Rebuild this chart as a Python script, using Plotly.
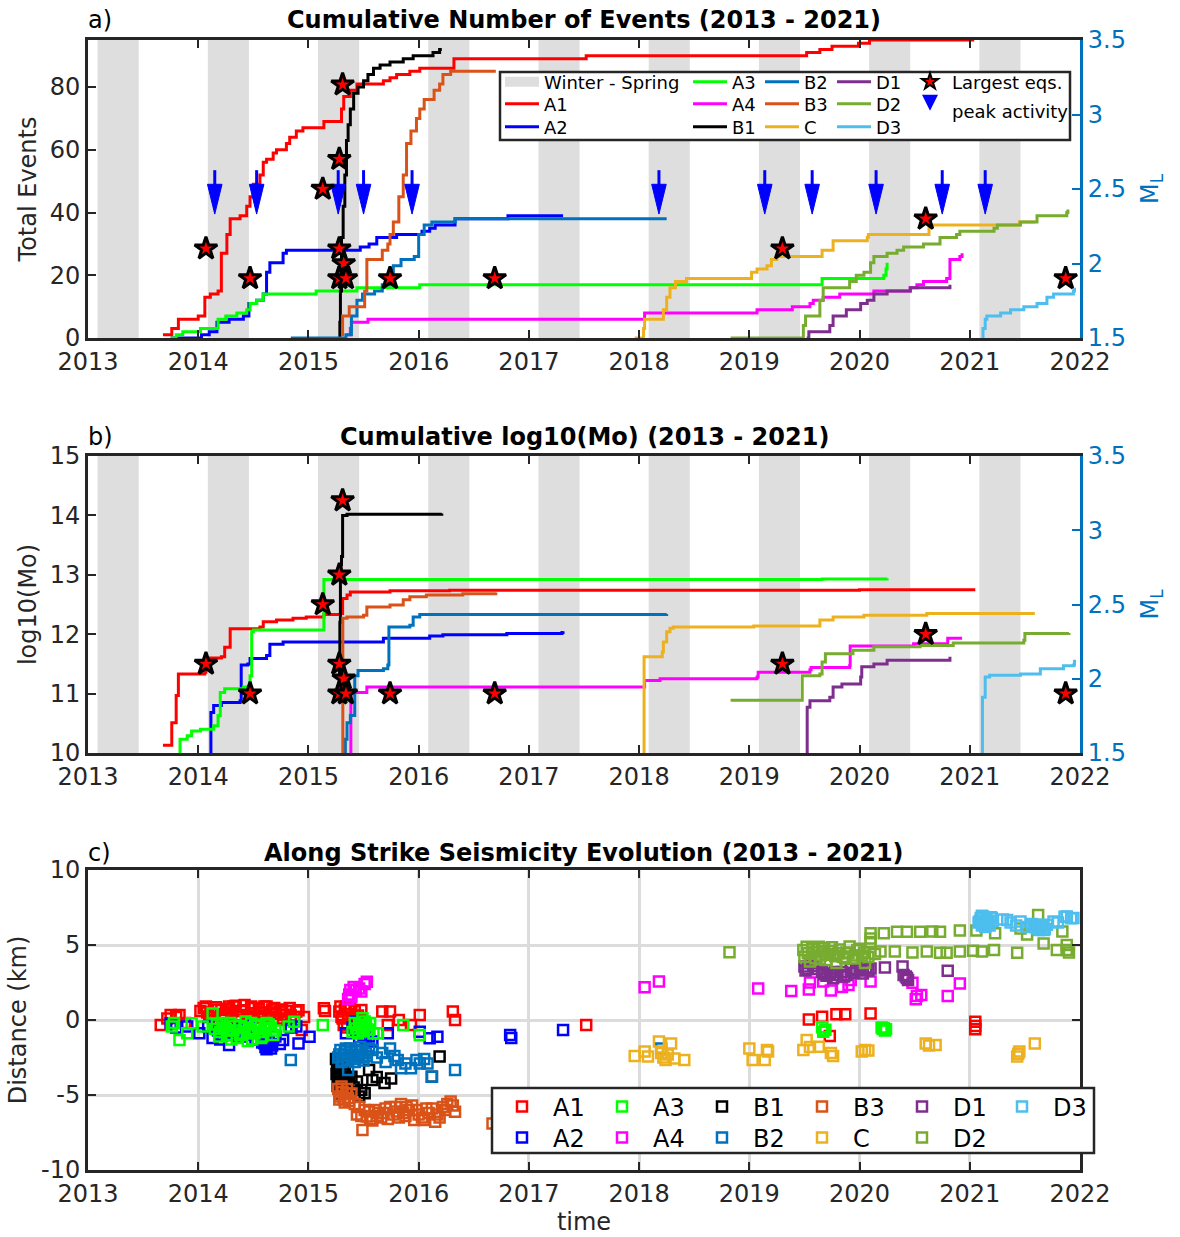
import plotly.graph_objects as go

FONT = "DejaVu Sans"
W, H = 1180, 1237

# ---------------- winter - spring periods (decimal years) ----------------
WINTER_START = [2013.087, 2014.087, 2015.087, 2016.087, 2017.087, 2018.087, 2019.087, 2020.087, 2021.087]
WINTER_END = [2013.46, 2014.46, 2015.46, 2016.46, 2017.46, 2018.46, 2019.46, 2020.46, 2021.46]

# ---------------- cumulative number of events ----------------
A1_NUM_T = [2013.68, 2013.76, 2013.82, 2014.00, 2014.06, 2014.11, 2014.18, 2014.21, 2014.26, 2014.29, 2014.38,
            2014.44, 2014.47, 2014.50, 2014.56, 2014.59, 2014.62, 2014.68, 2014.71, 2014.80, 2014.83, 2014.89,
            2014.95, 2015.14, 2015.30, 2015.32, 2015.38, 2015.44, 2015.68, 2015.74, 2015.80, 2015.92, 2016.01,
            2016.32, 2017.52, 2019.52, 2019.64, 2019.75, 2019.99, 2020.09, 2021.04]
A1_NUM = [1, 3, 6, 7, 13, 14, 15, 27, 33, 38, 39, 42, 45, 49, 52, 56, 57, 59, 60, 62, 64, 66, 67, 69, 73, 77, 79,
          81, 82, 83, 84, 85, 86, 89, 90, 91, 92, 93, 94, 95, 95]
A2_NUM_T = [2013.75, 2014.03, 2014.10, 2014.17, 2014.28, 2014.41, 2014.46, 2014.53, 2014.59, 2014.62, 2014.65,
            2014.77, 2014.80, 2015.47, 2015.55, 2015.62, 2015.80, 2016.03, 2016.10, 2016.15, 2016.33, 2016.81, 2017.31]
A2_NUM = [0, 1, 2, 5, 6, 7, 11, 12, 14, 21, 24, 27, 28, 29, 30, 32, 33, 34, 35, 36, 38, 39, 39]
A3_NUM_T = [2013.75, 2013.80, 2013.86, 2014.02, 2014.18, 2014.25, 2014.35, 2014.44, 2014.47, 2014.53, 2014.59,
            2015.07, 2015.44, 2016.01, 2019.66, 2020.22, 2020.24, 2020.25]
A3_NUM = [0, 1, 2, 3, 6, 7, 8, 9, 11, 12, 14, 15, 16, 17, 19, 20, 22, 24]
A4_NUM_T = [2015.35, 2015.38, 2015.39, 2015.54, 2018.05, 2019.07, 2019.39, 2019.55, 2019.58, 2019.67, 2019.82,
            2020.13, 2020.46, 2020.52, 2020.58, 2020.79, 2020.82, 2020.91, 2020.93]
A4_NUM = [1, 3, 5, 6, 8, 9, 10, 11, 12, 13, 14, 15, 16, 17, 18, 19, 25, 26, 27]
B1_NUM_T = [2015.28, 2015.285, 2015.29, 2015.30, 2015.315, 2015.33, 2015.345, 2015.36, 2015.38, 2015.41, 2015.45,
            2015.50, 2015.54, 2015.59, 2015.65, 2015.74, 2015.86, 2015.95, 2016.13, 2016.19, 2016.21]
B1_NUM = [0, 5, 15, 32, 42, 52, 63, 68, 73, 78, 80, 82, 84, 86, 87, 88, 89, 90, 91, 92, 92]
B2_NUM_T = [2014.84, 2015.34, 2015.39, 2015.44, 2015.49, 2015.60, 2015.67, 2015.74, 2015.77, 2015.84, 2015.96,
            2016.00, 2016.05, 2016.12, 2016.33, 2018.25]
B2_NUM = [0, 1, 7, 12, 14, 15, 17, 21, 23, 25, 26, 33, 36, 37, 38, 38]
B3_NUM_T = [2015.30, 2015.31, 2015.37, 2015.51, 2015.53, 2015.67, 2015.72, 2015.74, 2015.77, 2015.82, 2015.86,
            2015.89, 2015.93, 2015.98, 2016.01, 2016.05, 2016.14, 2016.19, 2016.22, 2016.29, 2016.70]
B3_NUM = [1, 7, 10, 15, 25, 28, 30, 33, 37, 45, 52, 62, 66, 70, 73, 76, 79, 81, 84, 85, 85]
C_NUM_T = [2017.96, 2018.04, 2018.05, 2018.22, 2018.25, 2018.28, 2018.33, 2018.43, 2019.02, 2019.07, 2019.16,
           2019.20, 2019.25, 2019.66, 2019.76, 2020.07, 2020.08, 2020.63, 2021.45, 2021.59]
C_NUM = [0, 3, 6, 9, 13, 16, 18, 19, 21, 22, 23, 25, 26, 28, 31, 32, 33, 36, 37, 37]
D1_NUM_T = [2019.52, 2019.54, 2019.73, 2019.76, 2019.88, 2020.01, 2020.07, 2020.13, 2020.25, 2020.46, 2020.82]
D1_NUM = [0, 2, 4, 7, 9, 11, 12, 14, 15, 16, 17]
D2_NUM_T = [2018.83, 2019.49, 2019.51, 2019.64, 2019.67, 2019.91, 2019.97, 2020.04, 2020.10, 2020.13, 2020.25,
            2020.34, 2020.40, 2020.58, 2020.73, 2020.88, 2020.91, 2021.22, 2021.25, 2021.46, 2021.61, 2021.88, 2021.89]
D2_NUM = [0, 4, 7, 12, 16, 18, 20, 21, 24, 26, 27, 28, 29, 30, 32, 33, 34, 35, 36, 37, 39, 40, 41]
D3_NUM_T = [2021.11, 2021.12, 2021.14, 2021.155, 2021.28, 2021.37, 2021.49, 2021.61, 2021.70, 2021.76, 2021.94, 2021.95]
D3_NUM = [0, 3, 6, 7, 8, 9, 10, 11, 13, 14, 15, 16]

# ---------------- cumulative log10(Mo) ----------------
A1_MO_T = [2013.68, 2013.76, 2013.80, 2013.82, 2014.06, 2014.07, 2014.21, 2014.24, 2014.29, 2014.56, 2014.59,
           2014.71, 2014.86, 2014.98, 2015.14, 2015.29, 2015.31, 2015.35, 2015.38, 2015.74, 2016.28, 2020.00, 2021.05]
A1_MO = [10.13, 10.51, 10.97, 11.33, 11.36, 11.60, 11.62, 11.78, 12.09, 12.12, 12.21, 12.24, 12.27, 12.29, 12.33,
         12.35, 12.60, 12.66, 12.71, 12.73, 12.74, 12.75, 12.75]
A2_MO_T = [2014.11, 2014.115, 2014.14, 2014.21, 2014.38, 2014.39, 2014.45, 2014.47, 2014.62, 2014.65, 2014.77,
           2015.68, 2016.10, 2016.22, 2016.80, 2017.30, 2017.31]
A2_MO = [9.9, 10.68, 10.80, 10.85, 10.88, 11.48, 11.50, 11.59, 11.64, 11.83, 11.87, 11.93, 11.97, 11.99, 12.01,
         12.03, 12.05]
A3_MO_T = [2013.83, 2013.835, 2013.90, 2013.94, 2014.02, 2014.14, 2014.18, 2014.20, 2014.24, 2014.41, 2014.47,
           2014.485, 2014.50, 2015.14, 2019.66, 2020.25]
A3_MO = [9.9, 10.23, 10.29, 10.37, 10.40, 10.46, 10.63, 11.02, 11.08, 11.11, 11.30, 12.04, 12.07, 12.92, 12.93, 12.94]
A4_MO_T = [2015.38, 2015.385, 2015.53, 2018.05, 2018.19, 2019.07, 2019.08, 2019.55, 2019.56, 2019.91, 2019.915,
           2020.49, 2020.80, 2020.93]
A4_MO = [9.9, 11.02, 11.11, 11.22, 11.25, 11.28, 11.36, 11.40, 11.44, 11.47, 11.80, 11.84, 11.93, 11.93]
B1_MO_T = [2015.28, 2015.282, 2015.285, 2015.29, 2015.295, 2015.30, 2015.31, 2015.35, 2016.21]
B1_MO = [10.9, 11.5, 12.2, 13.0, 13.17, 13.31, 14.0, 14.02, 14.03]
B2_MO_T = [2015.33, 2015.335, 2015.35, 2015.38, 2015.42, 2015.45, 2015.68, 2015.72, 2015.73, 2015.92, 2015.95,
           2016.01, 2018.25]
B2_MO = [9.9, 10.23, 10.51, 10.63, 11.30, 11.39, 11.42, 11.48, 12.12, 12.15, 12.29, 12.33, 12.34]
B3_MO_T = [2015.31, 2015.312, 2015.35, 2015.50, 2015.53, 2015.74, 2015.86, 2015.92, 2016.07, 2016.40, 2016.70]
B3_MO = [9.9, 12.27, 12.29, 12.32, 12.46, 12.49, 12.58, 12.63, 12.66, 12.68, 12.70]
C_MO_T = [2018.04, 2018.045, 2018.21, 2018.22, 2018.25, 2018.28, 2018.31, 2019.04, 2019.64, 2019.76, 2020.04,
          2020.61, 2021.59]
C_MO = [9.9, 11.62, 11.70, 11.87, 12.04, 12.10, 12.12, 12.14, 12.24, 12.29, 12.32, 12.35, 12.35]
D1_MO_T = [2019.52, 2019.525, 2019.55, 2019.73, 2019.76, 2019.84, 2020.01, 2020.02, 2020.13, 2020.25, 2020.82]
D1_MO = [9.9, 10.77, 10.88, 10.94, 11.11, 11.16, 11.28, 11.45, 11.50, 11.56, 11.62]
D2_MO_T = [2018.83, 2019.48, 2019.64, 2019.66, 2019.69, 2019.94, 2020.13, 2020.55, 2020.85, 2021.49, 2021.50, 2021.90]
D2_MO = [10.89, 11.30, 11.33, 11.53, 11.67, 11.73, 11.79, 11.81, 11.85, 11.90, 12.01, 12.02]
D3_MO_T = [2021.11, 2021.115, 2021.14, 2021.18, 2021.46, 2021.64, 2021.85, 2021.94, 2021.95]
D3_MO = [9.9, 10.94, 11.28, 11.31, 11.33, 11.42, 11.47, 11.48, 11.57]

# ---------------- largest earthquakes and peak activity ----------------
LARGEST_T = [2014.07, 2014.47, 2015.13, 2015.28, 2015.31, 2015.28, 2015.32, 2015.28, 2015.34, 2015.74, 2016.69,
             2019.30, 2020.60, 2021.87]
LARGEST_ML = [2.1, 1.9, 2.5, 2.7, 3.2, 2.1, 2.0, 1.9, 1.9, 1.9, 1.9, 2.1, 2.3, 1.9]
PEAK_T = [2014.15, 2014.53, 2015.27, 2015.50, 2015.94, 2018.18, 2019.14, 2019.57, 2020.15, 2020.75, 2021.14]

# ---------------- along strike locations (time, distance km) ----------------
A1_LOC_T = [2013.66, 2013.72, 2013.75, 2013.80, 2013.83, 2013.88, 2014.02, 2014.05, 2014.07, 2014.08, 2014.10,
            2014.12, 2014.14, 2014.16, 2014.18, 2014.21, 2014.22, 2014.24, 2014.26, 2014.28, 2014.30, 2014.32,
            2014.34, 2014.35, 2014.37, 2014.39, 2014.41, 2014.42, 2014.44, 2014.46, 2014.48, 2014.50, 2014.51,
            2014.53, 2014.55, 2014.57, 2014.58, 2014.60, 2014.62, 2014.63, 2014.65, 2014.67, 2014.69, 2014.70,
            2014.72, 2014.74, 2014.76, 2014.77, 2014.79, 2014.80, 2014.83, 2014.84, 2014.87, 2014.89, 2014.91,
            2014.94, 2014.96, 2015.14, 2015.15, 2015.28, 2015.29, 2015.30, 2015.31, 2015.32, 2015.33, 2015.34,
            2015.35, 2015.36, 2015.37, 2015.38, 2015.40, 2015.42, 2015.45, 2015.48, 2015.67, 2015.72, 2015.74,
            2015.82, 2015.93, 2016.01, 2016.31, 2016.33, 2017.52, 2019.54, 2019.66, 2019.73, 2019.79, 2019.87,
            2020.10, 2021.05, 2021.05, 2021.05]
A1_LOC_D = [-0.33, 0.1, 0.33, 0.2, 0.33, -0.2, 0.6, 0.8, 0.9, 0.5, 0.2, 0.4, 0.0, 0.85, 0.7, 0.67, 0.2, 0.4, 0.75,
            0.9, 0.5, 0.9, 0.95, 0.2, 0.3, 0.6, 0.65, 1.0, 0.1, 0.3, 0.9, 0.8, 0.45, -0.2, 0.75, 0.5, 0.15, 0.9,
            0.9, 0.2, 0.5, 0.7, 0.8, 0.4, 0.1, 0.56, 0.7, 0.0, 0.35, 0.6, 0.8, 0.3, 0.2, 0.56, 0.65, -0.67, 0.2,
            0.78, 0.6, 0.56, 0.9, 0.2, 0.1, -0.33, 0.7, 0.9, -0.5, 0.4, 0.85, 0.78, 0.0, 0.6, 0.3, 0.67, 0.56,
            -0.33, 0.56, 0.0, -0.33, 0.33, 0.56, 0.0, -0.33, 0.04, 0.22, -1.07, 0.38, 0.38, 0.44, -0.11, -0.4,
            -0.62]
A2_LOC_T = [2013.75, 2013.80, 2013.90, 2014.01, 2014.09, 2014.13, 2014.18, 2014.20, 2014.22, 2014.25, 2014.28,
            2014.33, 2014.36, 2014.38, 2014.44, 2014.46, 2014.52, 2014.58, 2014.60, 2014.61, 2014.62, 2014.63,
            2014.64, 2014.66, 2014.67, 2014.70, 2014.74, 2014.77, 2014.84, 2014.89, 2014.91, 2015.01, 2015.34,
            2015.40, 2015.43, 2015.46, 2015.50, 2015.52, 2015.55, 2015.58, 2015.72, 2016.01, 2016.10, 2016.17,
            2016.83, 2016.84, 2017.31]
A2_LOC_D = [-0.22, -0.5, -0.44, -0.89, -0.44, -1.2, -0.7, -1.3, -1.0, -0.9, -1.67, -0.8, -0.6, -1.1, -1.0, -0.44,
            -1.3, -1.5, -1.55, -1.8, -1.95, -1.67, -1.4, -1.9, -1.7, -1.1, -1.6, -1.33, -0.5, -0.44, -1.56, -1.11,
            -0.89, -0.5, -0.11, -1.33, -1.0, -1.2, -1.1, -1.44, -0.89, -0.78, -1.22, -1.11, -1.0, -1.2, -0.67]
A3_LOC_T = [2013.76, 2013.78, 2013.83, 2013.90, 2013.94, 2014.04, 2014.13, 2014.15, 2014.17, 2014.19, 2014.20,
            2014.22, 2014.23, 2014.26, 2014.27, 2014.29, 2014.30, 2014.32, 2014.33, 2014.35, 2014.37, 2014.38,
            2014.40, 2014.42, 2014.43, 2014.45, 2014.46, 2014.48, 2014.49, 2014.51, 2014.52, 2014.54, 2014.55,
            2014.57, 2014.58, 2014.60, 2014.62, 2014.64, 2014.66, 2014.68, 2014.70, 2014.82, 2014.87, 2015.13,
            2015.40, 2015.42, 2015.43, 2015.45, 2015.46, 2015.48, 2015.49, 2015.50, 2015.51, 2015.52, 2015.53,
            2015.55, 2015.56, 2015.59, 2015.63, 2015.86, 2016.01, 2019.66, 2019.67, 2019.69, 2020.20, 2020.21,
            2020.22, 2020.23, 2020.24]
A3_LOC_D = [-0.44, -0.2, -1.33, -0.89, -0.22, -0.44, 0.44, -0.6, -0.3, -1.1, -0.8, -0.2, -0.5, -1.0, -0.7, -0.2,
            -1.3, -0.7, -0.4, -1.2, -0.4, -1.0, -0.9, -0.5, -0.1, -1.4, -0.6, -0.2, -1.3, -0.9, -0.3, -0.4, -0.8,
            -1.2, -1.1, -0.6, -0.2, -0.3, -0.5, -1.0, -0.7, -0.44, -0.11, -0.33, -0.8, -0.2, -0.56, -0.9, -0.3,
            -0.45, 0.11, -0.75, -0.1, -0.35, -0.6, -0.65, -0.2, -0.9, -0.89, -0.33, -1.0, -0.49, -0.78, -0.65,
            -0.5, -0.6, -0.55, -0.7, -0.62]
A4_LOC_T = [2015.36, 2015.37, 2015.38, 2015.39, 2015.41, 2015.43, 2015.46, 2015.48, 2015.51, 2015.53, 2018.05,
            2018.18, 2019.08, 2019.38, 2019.54, 2019.55, 2019.67, 2019.74, 2019.84, 2019.90, 2019.92, 2020.10,
            2020.48, 2020.51, 2020.52, 2020.56, 2020.80, 2020.91]
A4_LOC_D = [1.4, 1.7, 2.0, 1.56, 2.2, 2.0, 2.1, 1.9, 2.4, 2.55, 2.18, 2.56, 2.1, 1.93, 2.04, 2.5, 2.56, 1.96, 2.2,
            2.33, 2.67, 2.56, 2.49, 1.38, 1.6, 1.67, 1.6, 2.44]
B1_LOC_T = [2015.25, 2015.255, 2015.26, 2015.265, 2015.27, 2015.27, 2015.275, 2015.28, 2015.285, 2015.29, 2015.29,
            2015.295, 2015.30, 2015.305, 2015.31, 2015.315, 2015.32, 2015.325, 2015.33, 2015.34, 2015.35, 2015.37,
            2015.39, 2015.41, 2015.44, 2015.46, 2015.48, 2015.51, 2015.55, 2015.58, 2015.62, 2015.69, 2015.75,
            2016.12, 2016.19]
B1_LOC_D = [-2.6, -3.6, -3.0, -4.4, -3.4, -4.2, -2.8, -3.8, -4.9, -3.3, -4.6, -3.9, -2.9, -4.3, -4.0, -3.2, -4.67,
            -4.1, -3.6, -4.8, -4.3, -3.9, -3.78, -4.5, -4.1, -5.1, -4.67, -4.89, -3.33, -4.0, -3.8, -4.2, -3.9,
            -3.78, -2.44]
B2_LOC_T = [2014.84, 2015.27, 2015.28, 2015.29, 2015.30, 2015.31, 2015.32, 2015.33, 2015.34, 2015.35, 2015.36,
            2015.37, 2015.38, 2015.39, 2015.40, 2015.41, 2015.42, 2015.43, 2015.44, 2015.45, 2015.46, 2015.47,
            2015.48, 2015.49, 2015.50, 2015.52, 2015.53, 2015.55, 2015.58, 2015.62, 2015.67, 2015.70, 2015.74,
            2015.78, 2015.81, 2015.84, 2015.88, 2015.93, 2015.98, 2016.01, 2016.05, 2016.08, 2016.12, 2016.33,
            2018.20]
B2_LOC_D = [-2.67, -2.5, -2.3, -2.0, -2.8, -2.7, -2.3, -2.1, -1.9, -2.6, -3.33, -2.4, -1.9, -2.1, -2.4, -2.6, -2.8,
            -2.0, -2.1, -2.3, -2.5, -1.8, -2.0, -2.5, -2.7, -2.2, -2.4, -1.9, -2.0, -2.5, -2.2, -2.8, -1.9, -2.4,
            -2.67, -3.22, -2.9, -3.22, -2.67, -2.9, -2.6, -2.9, -3.78, -3.33, -1.9]
B3_LOC_T = [2015.27, 2015.28, 2015.29, 2015.30, 2015.31, 2015.32, 2015.33, 2015.34, 2015.35, 2015.36, 2015.37,
            2015.39, 2015.42, 2015.44, 2015.46, 2015.48, 2015.49, 2015.51, 2015.53, 2015.55, 2015.56, 2015.58,
            2015.60, 2015.62, 2015.63, 2015.66, 2015.68, 2015.70, 2015.72, 2015.74, 2015.77, 2015.79, 2015.80,
            2015.82, 2015.84, 2015.86, 2015.88, 2015.89, 2015.91, 2015.94, 2015.96, 2015.98, 2016.00, 2016.03,
            2016.05, 2016.07, 2016.09, 2016.12, 2016.15, 2016.17, 2016.19, 2016.22, 2016.24, 2016.26, 2016.29,
            2016.31, 2016.33, 2016.67]
B3_LOC_D = [-4.6, -5.3, -5.1, -4.44, -4.8, -5.3, -5.5, -4.9, -4.6, -5.2, -5.4, -4.9, -5.6, -6.3, -5.8, -6.4, -7.33,
            -6.0, -6.44, -6.1, -6.6, -6.7, -6.0, -6.4, -6.2, -6.5, -6.2, -5.9, -6.6, -5.8, -6.3, -5.8, -6.1, -6.5,
            -5.6, -6.2, -6.4, -5.8, -6.0, -5.7, -6.67, -6.0, -6.3, -6.5, -6.67, -5.9, -6.2, -5.9, -6.78, -6.3,
            -6.5, -5.8, -6.0, -5.6, -5.44, -5.7, -6.11, -6.9]
C_LOC_T = [2017.96, 2018.05, 2018.08, 2018.18, 2018.20, 2018.22, 2018.24, 2018.26, 2018.29, 2018.32, 2018.41,
           2019.00, 2019.03, 2019.14, 2019.16, 2019.17, 2019.49, 2019.52, 2019.55, 2019.63, 2019.74, 2019.76,
           2020.02, 2020.05, 2020.08, 2020.60, 2020.63, 2020.69, 2021.43, 2021.44, 2021.45, 2021.59]
C_LOC_D = [-2.4, -2.1, -2.44, -1.44, -2.2, -2.5, -2.67, -2.3, -1.56, -2.56, -2.67, -1.9, -2.67, -2.67, -2.0, -2.1,
           -2.0, -1.33, -1.8, -1.78, -2.2, -2.4, -2.1, -2.0, -2.04, -1.56, -1.7, -1.67, -2.44, -2.25, -2.1, -1.56]
D1_LOC_T = [2019.50, 2019.51, 2019.53, 2019.55, 2019.58, 2019.62, 2019.66, 2019.68, 2019.70, 2019.73, 2019.76,
            2019.78, 2019.80, 2019.84, 2019.86, 2019.88, 2019.92, 2019.95, 2019.97, 2020.00, 2020.03, 2020.06,
            2020.08, 2020.10, 2020.23, 2020.39, 2020.40, 2020.42, 2020.43, 2020.44, 2020.80]
D1_LOC_D = [3.56, 3.3, 3.4, 3.78, 3.6, 3.4, 3.2, 3.05, 2.95, 3.1, 2.78, 3.2, 3.0, 3.2, 2.9, 3.0, 3.4, 3.15, 3.3,
            3.33, 3.1, 3.5, 3.3, 3.44, 3.5, 3.56, 3.0, 2.9, 2.8, 2.67, 3.29]
D2_LOC_T = [2018.82, 2019.49, 2019.50, 2019.52, 2019.53, 2019.55, 2019.57, 2019.58, 2019.60, 2019.61, 2019.63,
            2019.64, 2019.65, 2019.67, 2019.68, 2019.70, 2019.71, 2019.73, 2019.75, 2019.76, 2019.78, 2019.79,
            2019.81, 2019.82, 2019.85, 2019.87, 2019.88, 2019.90, 2019.91, 2019.94, 2019.96, 2019.98, 2020.00,
            2020.02, 2020.04, 2020.05, 2020.08, 2020.10, 2020.10, 2020.10, 2020.14, 2020.19, 2020.22, 2020.32,
            2020.34, 2020.43, 2020.48, 2020.55, 2020.61, 2020.66, 2020.73, 2020.73, 2020.79, 2020.91, 2020.91,
            2021.03, 2021.06, 2021.11, 2021.22, 2021.23, 2021.43, 2021.46, 2021.52, 2021.62, 2021.67, 2021.79,
            2021.84, 2021.88, 2021.88, 2021.90]
D2_LOC_D = [4.51, 4.67, 4.2, 4.89, 4.45, 3.9, 4.75, 4.5, 4.1, 4.55, 4.89, 4.05, 4.3, 4.6, 4.8, 4.0, 4.35, 4.6,
            4.85, 4.4, 4.25, 3.8, 4.45, 4.7, 4.2, 4.1, 4.5, 4.45, 4.9, 4.1, 4.3, 4.67, 4.75, 4.3, 4.5, 3.8, 4.2,
            5.78, 5.44, 5.2, 4.4, 4.56, 5.78, 4.56, 5.89, 5.89, 4.5, 5.89, 4.56, 5.9, 5.89, 4.49, 4.49, 5.96, 4.56,
            4.62, 5.96, 4.56, 4.67, 5.78, 4.49, 6.1, 5.7, 7.0, 5.1, 4.67, 5.9, 4.67, 5.0, 4.5]
D3_LOC_T = [2021.08, 2021.09, 2021.10, 2021.11, 2021.11, 2021.12, 2021.13, 2021.13, 2021.14, 2021.15, 2021.16,
            2021.17, 2021.18, 2021.19, 2021.20, 2021.21, 2021.30, 2021.34, 2021.37, 2021.42, 2021.46, 2021.52,
            2021.56, 2021.58, 2021.60, 2021.61, 2021.62, 2021.63, 2021.64, 2021.65, 2021.66, 2021.67, 2021.68,
            2021.70, 2021.76, 2021.80, 2021.86, 2021.88, 2021.92, 2021.94]
D3_LOC_D = [6.5, 6.6, 6.8, 6.3, 6.95, 6.9, 6.6, 6.4, 6.2, 6.75, 6.6, 6.5, 6.3, 6.85, 6.8, 6.6, 6.7, 6.67, 6.5, 6.3,
            6.56, 6.2, 6.4, 6.33, 6.2, 6.1, 6.35, 6.0, 6.1, 6.25, 6.25, 6.0, 6.05, 6.35, 6.56, 6.5, 6.89, 6.9,
            6.78, 6.8]

CLUSTERS = ["A1", "A2", "A3", "A4", "B1", "B2", "B3", "C", "D1", "D2", "D3"]
COLORS = {"A1": "#FF0000", "A2": "#0000FF", "A3": "#00FF00", "A4": "#FF00FF", "B1": "#000000",
          "B2": "#0072BD", "B3": "#D95319", "C": "#EDB120", "D1": "#7E2F8E", "D2": "#77AC30", "D3": "#4DBEEE"}
NUM = {"A1": (A1_NUM_T, A1_NUM), "A2": (A2_NUM_T, A2_NUM), "A3": (A3_NUM_T, A3_NUM), "A4": (A4_NUM_T, A4_NUM),
       "B1": (B1_NUM_T, B1_NUM), "B2": (B2_NUM_T, B2_NUM), "B3": (B3_NUM_T, B3_NUM), "C": (C_NUM_T, C_NUM),
       "D1": (D1_NUM_T, D1_NUM), "D2": (D2_NUM_T, D2_NUM), "D3": (D3_NUM_T, D3_NUM)}
MO = {"A1": (A1_MO_T, A1_MO), "A2": (A2_MO_T, A2_MO), "A3": (A3_MO_T, A3_MO), "A4": (A4_MO_T, A4_MO),
      "B1": (B1_MO_T, B1_MO), "B2": (B2_MO_T, B2_MO), "B3": (B3_MO_T, B3_MO), "C": (C_MO_T, C_MO),
      "D1": (D1_MO_T, D1_MO), "D2": (D2_MO_T, D2_MO), "D3": (D3_MO_T, D3_MO)}
LOC = {"A1": (A1_LOC_T, A1_LOC_D), "A2": (A2_LOC_T, A2_LOC_D), "A3": (A3_LOC_T, A3_LOC_D),
       "A4": (A4_LOC_T, A4_LOC_D), "B1": (B1_LOC_T, B1_LOC_D), "B2": (B2_LOC_T, B2_LOC_D),
       "B3": (B3_LOC_T, B3_LOC_D), "C": (C_LOC_T, C_LOC_D), "D1": (D1_LOC_T, D1_LOC_D),
       "D2": (D2_LOC_T, D2_LOC_D), "D3": (D3_LOC_T, D3_LOC_D)}

NUM_RANGE = [0, 95]
MO_RANGE = [10, 15]
ML_RANGE = [1.5, 3.5]
DIST_RANGE = [-10, 10]
YEARS = list(range(2013, 2023))


def px_x(p):
    return p / W


def px_y(p):
    return 1 - p / H


# Top legend: one horizontal legend per row; each entry's width sets the column grid.
# (legend id, entry width in px)
TOP_ENTRY = {"A1": ("legend2", 139), "A2": ("legend3", 139),
             "A3": ("legend", 23), "A4": ("legend2", 23), "B1": ("legend3", 23),
             "B2": ("legend", 23), "B3": ("legend2", 23), "C": ("legend3", 23),
             "D1": ("legend", 27), "D2": ("legend2", 27), "D3": ("legend3", 27)}
# Bottom legend: two horizontal rows, 100 px per column
BOT_ENTRY = {"A1": "legend4", "A3": "legend4", "B1": "legend4", "B3": "legend4", "D1": "legend4", "D3": "legend4",
             "A2": "legend5", "A4": "legend5", "B2": "legend5", "C": "legend5", "D2": "legend5"}

fig = go.Figure()


def winter_trace(xa, ya, yr):
    xs, ys = [], []
    for s, e in zip(WINTER_START, WINTER_END):
        xs += [s, e, e, s, s, None]
        ys += [yr[0], yr[0], yr[1], yr[1], yr[0], None]
    return go.Scatter(x=xs, y=ys, xaxis=xa, yaxis=ya, mode="lines", fill="toself", fillcolor="#DEDEDE",
                      line=dict(width=0, color="#DEDEDE"), showlegend=False, hoverinfo="skip")


# ---- panel a: cumulative number of events ----
fig.add_trace(winter_trace("x", "y", NUM_RANGE))
# legend swatch for the shaded periods (first entry of the first row)
fig.add_trace(go.Scatter(x=[None], y=[None], xaxis="x", yaxis="y", mode="lines",
                         line=dict(color="#DEDEDE", width=16), name="Winter - Spring",
                         legend="legend", legendwidth=139))
for c in CLUSTERS:
    t, n = NUM[c]
    lg, lw = TOP_ENTRY[c]
    fig.add_trace(go.Scatter(x=t, y=n, xaxis="x", yaxis="y", mode="lines",
                             line=dict(color=COLORS[c], width=3, shape="hv"),
                             name=c, legend=lg, legendwidth=lw))

# peak activity arrows (shaft + narrow head) on the event-count axis
ARROW_TOP, ARROW_TIP, HEAD_LEN, HEAD_HALF = 53.5, 39.5, 9.5, 0.066
sx, sy, hx, hy = [], [], [], []
for t in PEAK_T:
    sx += [t, t, None]
    sy += [ARROW_TOP, ARROW_TIP + HEAD_LEN * 0.5, None]
    hx += [t - HEAD_HALF, t + HEAD_HALF, t, t - HEAD_HALF, None]
    hy += [ARROW_TIP + HEAD_LEN, ARROW_TIP + HEAD_LEN, ARROW_TIP, ARROW_TIP + HEAD_LEN, None]
fig.add_trace(go.Scatter(x=sx, y=sy, xaxis="x", yaxis="y", mode="lines", line=dict(color="#0000FF", width=3),
                         showlegend=False, hoverinfo="skip"))
fig.add_trace(go.Scatter(x=hx, y=hy, xaxis="x", yaxis="y", mode="lines", fill="toself", fillcolor="#0000FF",
                         line=dict(color="#0000FF", width=1), showlegend=False, hoverinfo="skip"))

STAR = dict(symbol="star", size=17, color="#FF0000", line=dict(color="#000000", width=3))
fig.add_trace(go.Scatter(x=LARGEST_T, y=LARGEST_ML, xaxis="x", yaxis="y2", mode="markers", marker=STAR,
                         name="Largest eqs.", legend="legend7"))
fig.add_trace(go.Scatter(x=[None], y=[None], xaxis="x", yaxis="y2", mode="markers",
                         marker=dict(symbol="arrow-down", size=16, color="#0000FF"),
                         name="peak activity", legend="legend6"))

# ---- panel b: cumulative log10(Mo) ----
fig.add_trace(winter_trace("x2", "y3", MO_RANGE))
for c in CLUSTERS:
    t, m = MO[c]
    fig.add_trace(go.Scatter(x=t, y=m, xaxis="x2", yaxis="y3", mode="lines",
                             line=dict(color=COLORS[c], width=3, shape="hv"), showlegend=False))
fig.add_trace(go.Scatter(x=LARGEST_T, y=LARGEST_ML, xaxis="x2", yaxis="y4", mode="markers", marker=STAR,
                         showlegend=False))

# ---- panel c: along strike seismicity ----
for c in CLUSTERS:
    t, d = LOC[c]
    fig.add_trace(go.Scatter(x=t, y=d, xaxis="x3", yaxis="y5", mode="markers",
                             marker=dict(symbol="square-open", size=10, color=COLORS[c], line=dict(width=2.5)),
                             name=c, legend=BOT_ENTRY[c], legendwidth=33))

# ---------------- axes ----------------
TICKFONT = dict(family=FONT, size=24, color="#262626")
TITLEFONT = dict(family=FONT, size=24, color="#262626")
XDOM = [px_x(88), px_x(1080)]


def xaxis(anchor, title=None, grid=False):
    d = dict(domain=XDOM, anchor=anchor, range=[2013, 2022], tickvals=YEARS, ticks="inside", ticklen=8, tickwidth=2,
             tickcolor="#262626", showline=True, linewidth=3, linecolor="#262626", mirror="ticks", zeroline=False,
             showgrid=grid, gridcolor="#DCDCDC", gridwidth=2.5, tickfont=TICKFONT, automargin=False)
    if title:
        d["title"] = dict(text=title, font=TITLEFONT, standoff=7)
    return d


def yaxis(anchor, dom, rng, tv, title, mirror=False, grid=False, tt=None, standoff=7):
    d = dict(domain=dom, anchor=anchor, range=rng, tickvals=tv, ticks="inside", ticklen=8, tickwidth=2,
             tickcolor="#262626", showline=True, linewidth=3, linecolor="#262626", mirror=mirror,
             zeroline=False, showgrid=grid, gridcolor="#DCDCDC", gridwidth=2.5, tickfont=TICKFONT,
             title=dict(text=title, font=TITLEFONT, standoff=standoff), automargin=False)
    if tt:
        d["ticktext"] = tt
    return d


def ml_axis(anchor, overlay):
    return dict(overlaying=overlay, anchor=anchor, side="right", range=ML_RANGE, tickvals=[1.5, 2, 2.5, 3, 3.5],
                ticktext=["1.5", "2", "2.5", "3", "3.5"], ticks="inside", ticklen=8, tickwidth=2, tickcolor="#0072BD",
                showline=True, linewidth=3, linecolor="#0072BD", zeroline=False, showgrid=False,
                tickfont=dict(family=FONT, size=24, color="#0072BD"), automargin=False,
                title=dict(text="M<sub>L</sub>", font=dict(family=FONT, size=24, color="#0072BD"), standoff=17))


DOM_A = [px_y(338), px_y(40)]
DOM_B = [px_y(753), px_y(456)]
DOM_C = [px_y(1170), px_y(870)]

fig.update_layout(
    xaxis=xaxis("y"),
    yaxis=yaxis("x", DOM_A, NUM_RANGE, [0, 20, 40, 60, 80], "Total Events"),
    yaxis2=ml_axis("x", "y"),
    xaxis2=xaxis("y3"),
    yaxis3=yaxis("x2", DOM_B, MO_RANGE, [10, 11, 12, 13, 14, 15], "log10(Mo)"),
    yaxis4=ml_axis("x2", "y3"),
    xaxis3=xaxis("y5", title="time", grid=True),
    yaxis5=yaxis("x3", DOM_C, DIST_RANGE, [-10, -5, 0, 5, 10], "Distance (km)", mirror="ticks", grid=True,
                 tt=["-10", "-5", "0", "5", "10"], standoff=8),
)


def legend_row(x_px, y_px, size, itemwidth=34, sizing="trace"):
    return dict(x=px_x(x_px), y=px_y(y_px), xanchor="left", yanchor="middle", orientation="h",
                bgcolor="rgba(0,0,0,0)", borderwidth=0, tracegroupgap=0, itemwidth=itemwidth,
                itemsizing=sizing, entrywidthmode="pixels", font=dict(family=FONT, size=size, color="#000000"))


fig.update_layout(
    legend=legend_row(500, 82, 18),
    legend2=legend_row(500, 104, 18),
    legend3=legend_row(500, 127, 18),
    legend4=legend_row(491, 1107, 24, itemwidth=52),
    legend5=legend_row(491, 1138, 24, itemwidth=52),
    legend6=legend_row(908, 111, 18),
    legend7=legend_row(908, 82, 18, sizing="constant"),
)

# legend frames
fig.add_shape(type="rect", xref="paper", yref="paper", x0=px_x(500), x1=px_x(1070), y0=px_y(140), y1=px_y(72),
              line=dict(color="#262626", width=2.5), fillcolor="white", layer="above")
fig.add_shape(type="rect", xref="paper", yref="paper", x0=px_x(492), x1=px_x(1094), y0=px_y(1153), y1=px_y(1088),
              line=dict(color="#262626", width=2.5), fillcolor="white", layer="above")

# panel titles and labels
TITLES = [("Cumulative Number of Events (2013 - 2021)", 20, "a)"),
          ("Cumulative log10(Mo) (2013 - 2021)", 437, "b)"),
          ("Along Strike Seismicity Evolution (2013 - 2021)", 853, "c)")]
for text, ypx, lab in TITLES:
    fig.add_annotation(text="<b>" + text + "</b>", xref="paper", yref="paper", x=px_x(584), y=px_y(ypx),
                       xanchor="center", yanchor="middle", showarrow=False,
                       font=dict(family=FONT, size=24, color="#000000"))
    fig.add_annotation(text=lab, xref="paper", yref="paper", x=px_x(86), y=px_y(ypx), xanchor="left",
                       yanchor="middle", showarrow=False, font=dict(family=FONT, size=24, color="#000000"))

fig.update_layout(width=W, height=H, margin=dict(l=0, r=0, t=0, b=0, autoexpand=False), paper_bgcolor="white",
                  plot_bgcolor="white", font=dict(family=FONT), showlegend=True)

fig.write_html("out.html")
